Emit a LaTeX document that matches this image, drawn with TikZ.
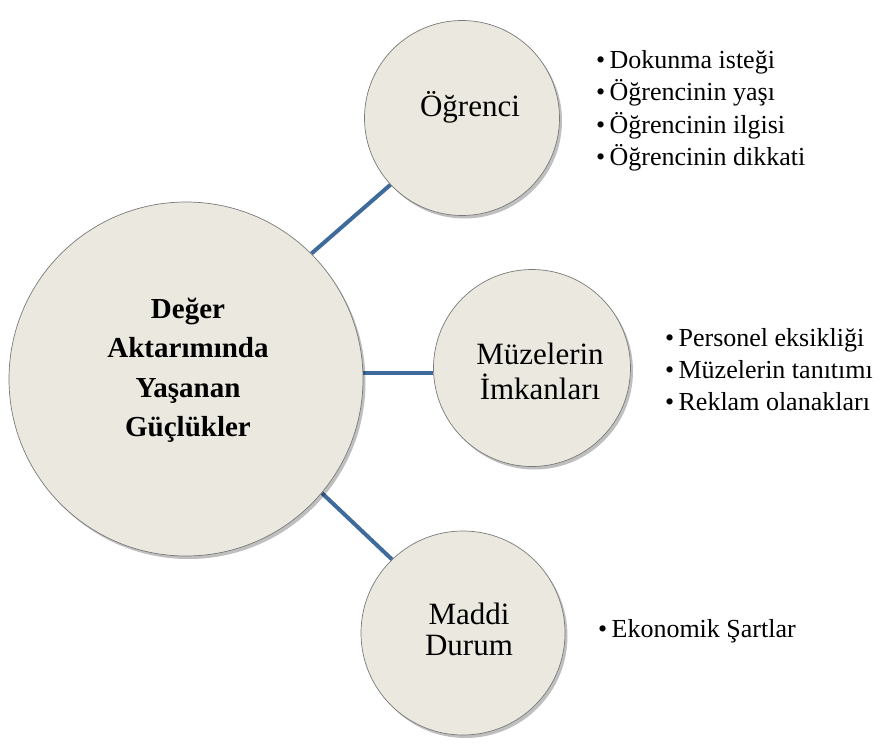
\documentclass[tikz,border=0pt]{standalone}
\usepackage{fontspec}
\setmainfont{Liberation Serif}
\usetikzlibrary{shadows,backgrounds}
\definecolor{circfill}{HTML}{EBE9DF}
\definecolor{circline}{HTML}{7A7A7A}
\definecolor{linkblue}{HTML}{3F6B9C}
\begin{document}
\begin{tikzpicture}[x=1pt,y=-1pt,
  circ/.style={circle, draw=circline, line width=0.7pt, fill=circfill, inner sep=0pt,
    drop shadow={shadow xshift=2.5pt, shadow yshift=-3pt, opacity=0.25, fill=black}},
  link/.style={draw=linkblue, line width=4pt},
  lbl/.style={inner sep=0pt, anchor=base, font=\fontsize{31}{31.5}\selectfont},
  ctr/.style={inner sep=0pt, anchor=base, font=\bfseries\fontsize{29}{39.6}\selectfont},
  lst/.style={inner sep=0pt, anchor=base west, font=\fontsize{26}{32.5}\selectfont}
]
\useasboundingbox (0,0) rectangle (884,745);

\node[circ, minimum size=354pt] (big) at (186,379) {};
\node[circ, minimum size=195pt] (ogr) at (462,118) {};
\node[circ, minimum size=197pt] (mz) at (532,368) {};
\node[circ, minimum size=204pt] (mad) at (463,633) {};

\begin{pgfonlayer}{background}
  \draw[link] (big.45) -- (ogr.223);
  \draw[link] (big.2.5) -- (big.2.5 -| mz.west);
  \draw[link] (big.-40) -- (mad.134);
\end{pgfonlayer}

\node[ctr] (ctext) at (188,318) {\renewcommand\arraystretch{1}\begin{tabular}[t]{@{}c@{}}Değer\\Aktarımında\\Yaşanan\\Güçlükler\end{tabular}};
\node[lbl] (ogrtext) at (470,116) {Öğrenci};
\node[lbl] (mztext) at (540,364) {\renewcommand\arraystretch{1}\begin{tabular}[t]{@{}c@{}}Müzelerin\\İmkanları\end{tabular}};
\node[lbl] (madtext) at (469,624) {\renewcommand\arraystretch{1}\begin{tabular}[t]{@{}c@{}}Maddi\\Durum\end{tabular}};

\node[lst] (list1) at (596,68) {\renewcommand\arraystretch{1}\begin{tabular}[t]{@{}l@{}}•\,Dokunma isteği\\•\,Öğrencinin yaşı\\•\,Öğrencinin ilgisi\\•\,Öğrencinin dikkati\end{tabular}};
\node[lst, font=\fontsize{26}{32}\selectfont] (list2) at (665,346) {\renewcommand\arraystretch{1}\begin{tabular}[t]{@{}l@{}}•\,Personel eksikliği\\•\,Müzelerin tanıtımı\\•\,Reklam olanakları\end{tabular}};
\node[lst] (list3) at (598,637) {•\,Ekonomik Şartlar};
\end{tikzpicture}
\end{document}
